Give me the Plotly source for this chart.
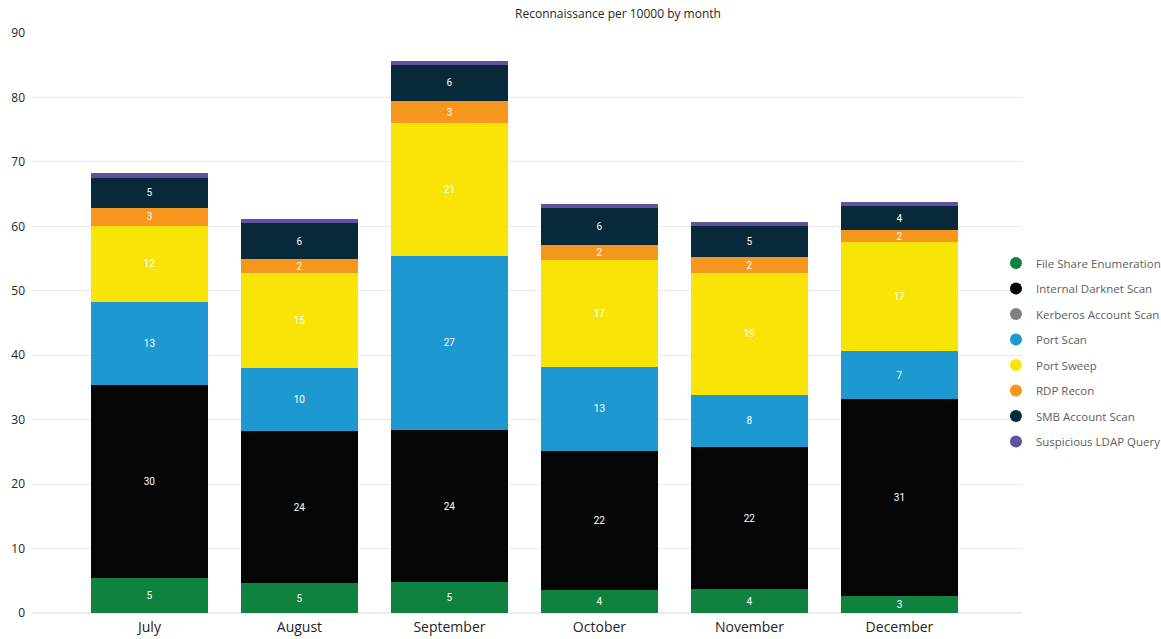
import plotly.graph_objects as go

months = ["July", "August", "September", "October", "November", "December"]

file_share = [5.4, 4.6, 4.8, 3.6, 3.7, 2.6]
internal_darknet = [30.0, 23.6, 23.6, 21.6, 22.0, 30.6]
kerberos = [0.0, 0.0, 0.0, 0.0, 0.0, 0.0]
port_scan = [12.9, 9.8, 27.0, 13.0, 8.2, 7.4]
port_sweep = [11.8, 14.7, 20.6, 16.6, 18.8, 16.9]
rdp_recon = [2.8, 2.2, 3.4, 2.3, 2.5, 1.9]
smb_scan = [4.65, 5.6, 5.7, 5.7, 4.8, 3.7]
ldap_query = [0.75, 0.6, 0.5, 0.6, 0.6, 0.6]

series = [
    ("File Share Enumeration", file_share, "#10823F", True),
    ("Internal Darknet Scan", internal_darknet, "#050505", True),
    ("Kerberos Account Scan", kerberos, "#7F7F86", False),
    ("Port Scan", port_scan, "#1E98D0", True),
    ("Port Sweep", port_sweep, "#F8E507", True),
    ("RDP Recon", rdp_recon, "#F7961F", True),
    ("SMB Account Scan", smb_scan, "#07293A", True),
    ("Suspicious LDAP Query", ldap_query, "#6350A3", False),
]

fig = go.Figure()
for i, (name, vals, color, labeled) in enumerate(series):
    texts = [f"{v:.0f}" for v in vals] if labeled else None
    fig.add_trace(go.Bar(
        x=months, y=vals, name=name, marker=dict(color=color, line=dict(width=0)),
        text=texts, textposition="inside" if labeled else "none",
        insidetextanchor="middle", textangle=0,
        textfont=dict(color="white", size=10, family="Roboto"),
        showlegend=False, hoverinfo="name+y",
    ))
    fig.add_trace(go.Scatter(
        x=[None], y=[None], mode="markers", name=name, legendgroup=f"g{i}",
        marker=dict(symbol="circle", size=10, color=color), showlegend=True,
    ))

fig.update_layout(
    barmode="stack",
    bargap=0.22,
    width=1161, height=639,
    margin=dict(l=32, r=139, t=33, b=26, autoexpand=False),
    paper_bgcolor="white", plot_bgcolor="white",
    uniformtext=dict(minsize=10, mode="show"),
    title=dict(text="Reconnaissance per 10000 by month", x=618 / 1161, xanchor="center",
               y=1 - 14 / 639, yanchor="middle",
               font=dict(size=12, color="#252423", family="Open Sans")),
    font=dict(family="Open Sans", color="#605E5C"),
    legend=dict(x=0.9737, xanchor="left", y=0.449, yanchor="middle",
                font=dict(size=11.5, color="#605E5C"), tracegroupgap=6.5,
                itemsizing="constant", bgcolor="rgba(0,0,0,0)"),
    xaxis=dict(range=[-0.783, 5.817], showgrid=False, showline=False, ticks="",
               automargin=False, tickfont=dict(size=14, color="#252423"), ticklabelstandoff=4),
    yaxis=dict(range=[0, 90], dtick=10, showgrid=True, gridcolor="#EBEBEB", gridwidth=1,
               zeroline=True, zerolinecolor="#EBEBEB", showline=False, ticks="",
               automargin=False, tickfont=dict(size=12, color="#252423"), ticklabelstandoff=6),
    showlegend=True,
)

fig.write_html("out.html")
